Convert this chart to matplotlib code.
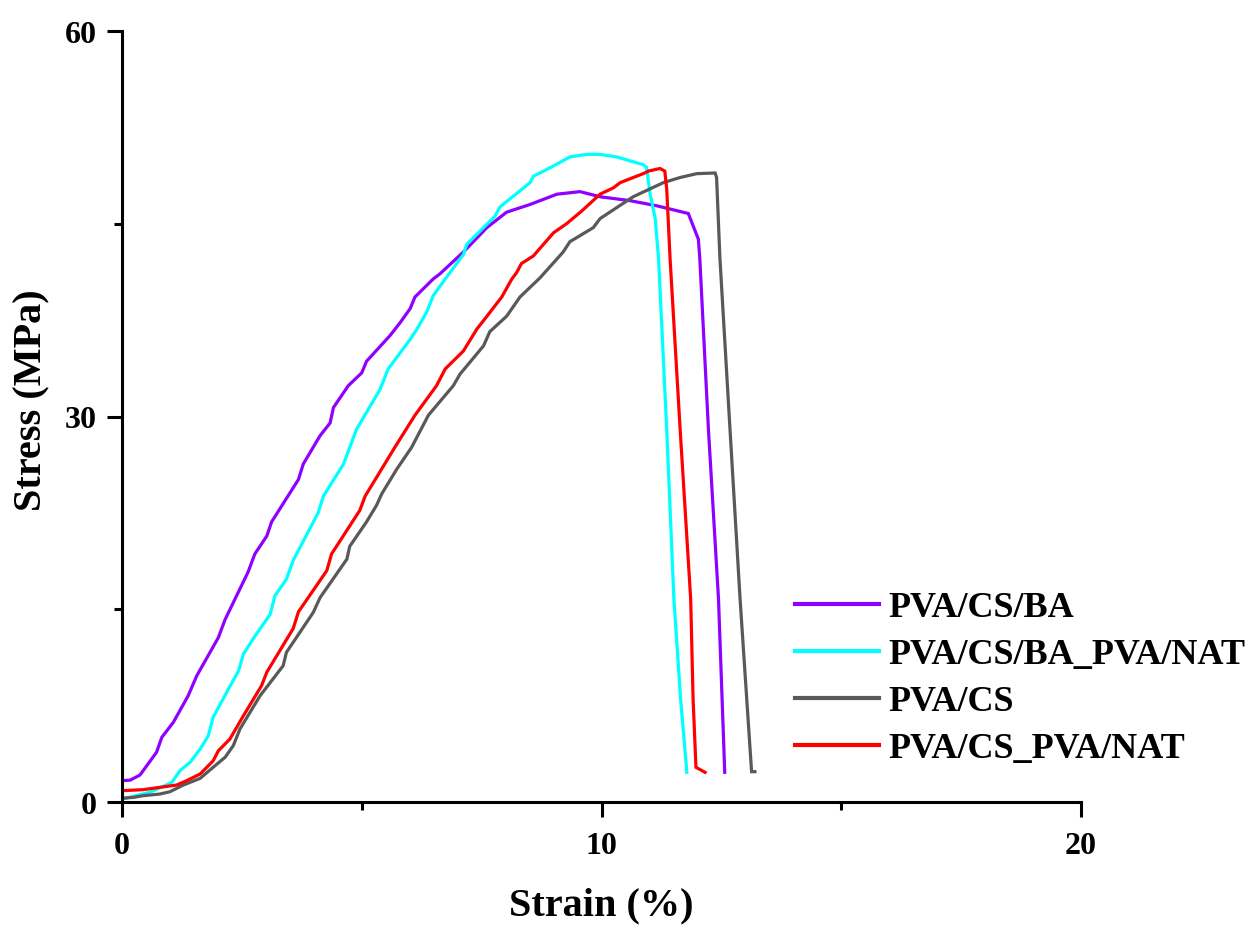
import matplotlib
matplotlib.use("Agg")
import matplotlib.pyplot as plt
from matplotlib.ticker import MultipleLocator

# Stress-strain curves (strain in %, stress in MPa)
ba_strain = [0, 0.17, 0.375, 0.72, 0.83, 1.07, 1.38, 1.56, 2.01, 2.15, 2.63, 2.77, 3.02,
             3.12, 3.68, 3.78, 4.13, 4.34, 4.41, 4.72, 5.0, 5.1, 5.59, 5.8, 6.01, 6.11,
             6.49, 6.63, 7.12, 7.61, 8.02, 8.51, 9.07, 9.55, 9.97, 10.59, 11.15, 11.81,
             12.02, 12.05, 12.23, 12.44, 12.57]
ba_stress = [1.66, 1.7, 2.1, 3.87, 5.03, 6.2, 8.27, 9.83, 12.8, 14.2, 17.9, 19.3, 20.7,
             21.8, 25.1, 26.3, 28.5, 29.5, 30.7, 32.4, 33.4, 34.3, 36.3, 37.3, 38.4, 39.3,
             40.7, 41.1, 42.8, 44.7, 45.9, 46.5, 47.3, 47.5, 47.1, 46.8, 46.4, 45.8,
             43.8, 42.3, 29.0, 15.8, 2.31]

ba_nat_strain = [0, 0.58, 1.04, 1.21, 1.42, 1.63, 1.80, 1.90, 2.22, 2.43, 2.53, 2.77, 3.09,
                 3.19, 3.43, 3.57, 4.09, 4.2, 4.62, 4.75, 4.89, 5.38, 5.55, 6.01, 6.15,
                 6.35, 6.49, 6.74, 7.12, 7.19, 7.78, 7.88, 8.51, 8.58, 9.0, 9.34, 9.69,
                 9.97, 10.32, 10.59, 10.87, 10.94, 11.01, 11.12, 11.19, 11.36, 11.51,
                 11.65, 11.78]
ba_nat_stress = [0.23, 0.75, 1.53, 2.44, 3.09, 4.12, 5.16, 6.59, 8.79, 10.2, 11.5, 12.9, 14.6,
                 16.05, 17.35, 18.8, 22.5, 23.8, 26.3, 27.6, 29.0, 32.1, 33.7, 36.0, 36.8,
                 38.1, 39.4, 40.7, 42.6, 43.4, 45.6, 46.3, 48.2, 48.7, 49.5, 50.2, 50.4,
                 50.4, 50.2, 49.9, 49.6, 49.4, 47.4, 45.4, 42.3, 29.0, 15.8,
                 8.0, 2.31]

cs_strain = [0, 0.24, 0.44, 0.79, 1.0, 1.28, 1.63, 1.9, 2.15, 2.32, 2.46, 2.88, 3.36, 3.43,
             3.99, 4.13, 4.69, 4.75, 5.10, 5.31, 5.42, 5.73, 6.04, 6.39, 6.91, 7.05, 7.54,
             7.67, 8.02, 8.30, 8.72, 9.2, 9.34, 9.83, 9.97, 10.66, 11.29, 11.64, 11.99,
             12.37, 12.40, 12.47, 12.68, 12.89, 13.13, 13.2]
cs_stress = [0.29, 0.36, 0.49, 0.62, 0.8, 1.32, 1.84, 2.7, 3.48, 4.38, 5.68, 8.27, 10.6, 11.65,
             14.76, 15.9, 18.9, 19.9, 21.8, 23.1, 24.0, 25.9, 27.6, 30.1, 32.4, 33.3, 35.5,
             36.6, 37.8, 39.3, 40.8, 42.8, 43.6, 44.7, 45.4, 47.1, 48.2, 48.6, 48.9,
             48.95, 48.6, 42.3, 29.0, 15.8, 2.36, 2.36]

cs_nat_strain = [0, 0.44, 1.14, 1.35, 1.63, 1.9, 2.01, 2.25, 2.53, 2.91, 3.02, 3.57, 3.68,
                 4.27, 4.37, 4.96, 5.07, 5.69, 6.11, 6.56, 6.74, 7.12, 7.40, 7.61, 7.92,
                 8.13, 8.23, 8.33, 8.58, 9.0, 9.27, 9.59, 9.97, 10.25, 10.39, 10.87, 10.98,
                 11.22, 11.32, 11.36, 11.43, 11.64, 11.86, 11.91, 11.97, 12.16]
cs_nat_stress = [0.88, 0.96, 1.32, 1.66, 2.18, 3.2, 3.99, 4.9, 6.7, 9.05, 10.1, 13.5, 14.8,
                 18.0, 19.3, 22.7, 23.8, 27.6, 30.1, 32.4, 33.7, 35.1, 36.8, 37.8, 39.3,
                 40.7, 41.2, 41.9, 42.5, 44.3, 45.0, 46.0, 47.3, 47.8, 48.2, 48.9, 49.1,
                 49.3, 49.1, 47.7, 42.3, 29.0, 15.8, 8.0, 2.7, 2.31]

series = [
    ("PVA/CS/BA", ba_strain, ba_stress, "#8F00FF"),
    ("PVA/CS/BA_PVA/NAT", ba_nat_strain, ba_nat_stress, "#00FFFF"),
    ("PVA/CS", cs_strain, cs_stress, "#595959"),
    ("PVA/CS_PVA/NAT", cs_nat_strain, cs_nat_stress, "#FF0000"),
]

plt.rcParams["font.family"] = ["Liberation Serif", "DejaVu Serif"]
plt.rcParams["font.weight"] = "bold"

fig = plt.figure(figsize=(12.58, 9.28), dpi=100)
ax = fig.add_axes([122 / 1258, 1 - 803 / 928, (1081 - 122) / 1258, (803 - 32) / 928])

for name, x, y, c in series:
    ax.plot(x, y, color=c, lw=2.3, label=name, solid_joinstyle="miter")

ax.set_xlim(0, 20)
ax.set_ylim(0, 60)
ax.xaxis.set_major_locator(MultipleLocator(10))
ax.xaxis.set_minor_locator(MultipleLocator(5))
ax.yaxis.set_major_locator(MultipleLocator(30))
ax.yaxis.set_minor_locator(MultipleLocator(15))

for side in ("top", "right"):
    ax.spines[side].set_visible(False)
for side in ("left", "bottom"):
    ax.spines[side].set_linewidth(2.2)

ax.tick_params(which="major", direction="out", length=11, width=2.2,
               labelsize=23)
ax.tick_params(axis="y", which="major", pad=7)
ax.tick_params(axis="x", which="major", pad=10)
ax.tick_params(which="minor", direction="out", length=5.5, width=2.2)
for lbl in ax.get_xticklabels() + ax.get_yticklabels():
    lbl.set_fontweight("bold")

ax.set_xlabel("Strain (%)", fontsize=29, fontweight="bold", labelpad=19)
ax.set_ylabel("Stress (MPa)", fontsize=29, fontweight="bold")
ax.yaxis.set_label_coords(-0.075, 0.523)

leg = ax.legend(loc="upper left", bbox_to_anchor=(795 / 1258, 1 - 592 / 928),
                bbox_transform=fig.transFigure, frameon=False,
                prop={"family": "Liberation Serif", "weight": "bold", "size": 26},
                handlelength=2.33, handletextpad=0.25, labelspacing=0.38,
                borderpad=0, borderaxespad=0)
for h in leg.get_lines():
    h.set_linewidth(3)

fig.savefig("out.png", dpi=100)
